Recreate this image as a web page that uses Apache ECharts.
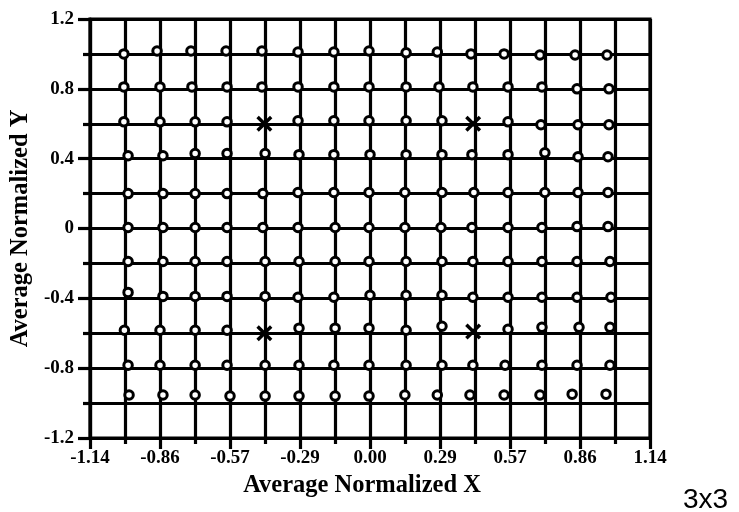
<!DOCTYPE html>
<html>
<head>
<meta charset="utf-8">
<script src="https://cdn.jsdelivr.net/npm/echarts@6/dist/echarts.min.js"></script>
<style>html,body{margin:0;padding:0;background:#fff}#c{width:739px;height:512px}</style>
</head>
<body>
<div id="c"></div>
<script>
// Tick labels
var xTickLabels = ['-1.14','-0.86','-0.57','-0.29','0.00','0.29','0.57','0.86','1.14'];
var yTickLabels = ['-1.2','-0.8','-0.4','0','0.4','0.8','1.2'];

// Circle points, one array per row
var row1_0 = [[-1.002,1.000],[-0.867,1.017],[-0.729,1.017],[-0.586,1.017],[-0.440,1.017],[-0.293,1.011],[-0.147,1.011],[-0.004,1.017],[0.147,1.006],[0.274,1.011],[0.411,1.000],[0.546,1.000],[0.692,0.994],[0.835,0.994],[0.965,0.994]];
var row0_8 = [[-1.002,0.811],[-0.855,0.811],[-0.725,0.811],[-0.582,0.811],[-0.440,0.811],[-0.293,0.811],[-0.147,0.811],[-0.004,0.811],[0.147,0.811],[0.281,0.811],[0.419,0.811],[0.562,0.811],[0.700,0.811],[0.843,0.800],[0.973,0.800]];
var row0_6 = [[-1.002,0.611],[-0.855,0.611],[-0.712,0.611],[-0.582,0.611],[-0.293,0.617],[-0.147,0.617],[-0.004,0.617],[0.147,0.617],[0.293,0.617],[0.562,0.611],[0.696,0.594],[0.847,0.594],[0.973,0.594]];
var row0_4 = [[-0.985,0.417],[-0.843,0.417],[-0.712,0.429],[-0.582,0.429],[-0.427,0.429],[-0.289,0.423],[-0.147,0.423],[0.000,0.423],[0.147,0.423],[0.293,0.423],[0.415,0.423],[0.562,0.423],[0.712,0.434],[0.847,0.411],[0.969,0.411]];
var row0_2 = [[-0.985,0.200],[-0.843,0.200],[-0.712,0.200],[-0.582,0.200],[-0.436,0.200],[-0.293,0.206],[-0.147,0.206],[-0.004,0.206],[0.142,0.206],[0.293,0.206],[0.423,0.206],[0.562,0.206],[0.712,0.206],[0.847,0.206],[0.969,0.206]];
var row0_0 = [[-0.985,0.006],[-0.843,0.006],[-0.712,0.006],[-0.582,0.006],[-0.436,0.006],[-0.293,0.006],[-0.142,0.006],[-0.004,0.006],[0.142,0.006],[0.289,0.006],[0.415,0.006],[0.562,0.006],[0.700,0.006],[0.843,0.011],[0.969,0.011]];
var rowM0_2 = [[-0.985,-0.189],[-0.843,-0.189],[-0.712,-0.189],[-0.582,-0.189],[-0.427,-0.189],[-0.289,-0.189],[-0.142,-0.189],[-0.004,-0.189],[0.147,-0.189],[0.293,-0.189],[0.419,-0.189],[0.562,-0.189],[0.700,-0.189],[0.843,-0.189],[0.977,-0.189]];
var rowM0_4 = [[-0.985,-0.366],[-0.843,-0.389],[-0.712,-0.389],[-0.582,-0.389],[-0.427,-0.389],[-0.293,-0.394],[-0.147,-0.394],[0.000,-0.383],[0.147,-0.383],[0.293,-0.383],[0.419,-0.394],[0.562,-0.394],[0.700,-0.394],[0.843,-0.394],[0.981,-0.394]];
var rowM0_6 = [[-1.000,-0.583],[-0.855,-0.583],[-0.712,-0.583],[-0.582,-0.583],[-0.289,-0.571],[-0.142,-0.571],[-0.004,-0.571],[0.147,-0.583],[0.293,-0.560],[0.562,-0.577],[0.700,-0.566],[0.851,-0.566],[0.977,-0.566]];
var rowM0_8 = [[-0.985,-0.783],[-0.855,-0.783],[-0.712,-0.783],[-0.582,-0.783],[-0.427,-0.783],[-0.289,-0.783],[-0.147,-0.783],[-0.004,-0.783],[0.147,-0.783],[0.293,-0.783],[0.419,-0.783],[0.550,-0.783],[0.700,-0.783],[0.843,-0.783],[0.977,-0.783]];
var rowM1_0 = [[-0.981,-0.954],[-0.843,-0.954],[-0.712,-0.954],[-0.570,-0.960],[-0.427,-0.960],[-0.289,-0.960],[-0.142,-0.960],[-0.004,-0.960],[0.142,-0.954],[0.274,-0.954],[0.407,-0.954],[0.546,-0.954],[0.692,-0.954],[0.823,-0.949],[0.961,-0.949]];

// Cross markers
var crossX = [-0.43, 0.42, -0.43, 0.42];
var crossY = [0.60, 0.60, -0.60, -0.59];

var circles = [].concat(row1_0,row0_8,row0_6,row0_4,row0_2,row0_0,rowM0_2,rowM0_4,rowM0_6,rowM0_8,rowM1_0);
var crosses = crossX.map(function(x,i){return [x, crossY[i]];});

var SERIF = '"Liberation Serif","DejaVu Serif",serif';
var thick = {color:'#000', width:3.2};

var chart = echarts.init(document.getElementById('c'), null, {renderer:'canvas'});
chart.setOption({
  backgroundColor:'#fff',
  animation:false,
  grid:{left:89, right:89, top:19, bottom:74, show:true, borderColor:'#000', borderWidth:3.2, backgroundColor:'transparent'},
  xAxis:{
    type:'value', min:-1.14, max:1.14, interval:0.285,
    axisLine:{show:true, onZero:false, lineStyle:thick},
    axisTick:{show:true, length:11, lineStyle:thick},
    minorTick:{show:true, splitNumber:2, length:6, lineStyle:thick},
    splitLine:{show:true, lineStyle:thick},
    minorSplitLine:{show:true, lineStyle:thick},
    axisLabel:{
      margin:11, color:'#000', fontFamily:SERIF, fontWeight:'bold', fontSize:19,
      formatter:function(v){ return xTickLabels[Math.round((v+1.14)/0.285)]; }
    },
    name:'Average Normalized X', nameLocation:'middle', nameGap:32,
    nameTextStyle:{color:'#000', fontFamily:SERIF, fontWeight:'bold', fontSize:24.5, padding:[0,16,0,0]}
  },
  yAxis:{
    type:'value', min:-1.2, max:1.2, interval:0.4,
    axisLine:{show:true, onZero:false, lineStyle:thick},
    axisTick:{show:true, length:12, lineStyle:thick},
    minorTick:{show:true, splitNumber:2, length:7, lineStyle:thick},
    splitLine:{show:true, lineStyle:thick},
    minorSplitLine:{show:true, lineStyle:thick},
    axisLabel:{
      margin:16, color:'#000', fontFamily:SERIF, fontWeight:'bold', fontSize:19,
      formatter:function(v){ return yTickLabels[Math.round((v+1.2)/0.4)]; }
    },
    name:'Average Normalized Y', nameLocation:'middle', nameGap:57, nameRotate:90,
    nameTextStyle:{color:'#000', fontFamily:SERIF, fontWeight:'bold', fontSize:24.5}
  },
  series:[
    {type:'scatter', data:circles, symbol:'circle', symbolSize:8.5, z:3,
     itemStyle:{color:'#fff', borderColor:'#000', borderWidth:3, opacity:1}},
    {type:'scatter', data:crosses, z:4,
     symbol:'path://M0,3 L3,0 L10,7 L17,0 L20,3 L13,10 L20,17 L17,20 L10,13 L3,20 L0,17 L7,10 Z',
     symbolSize:16, itemStyle:{color:'#000', opacity:1}}
  ],
  graphic:[
    {type:'text', left:683, top:486, style:{text:'3x3', fill:'#000', font:'28px "Liberation Sans", Arial, sans-serif'}}
  ]
});
</script>
</body>
</html>
